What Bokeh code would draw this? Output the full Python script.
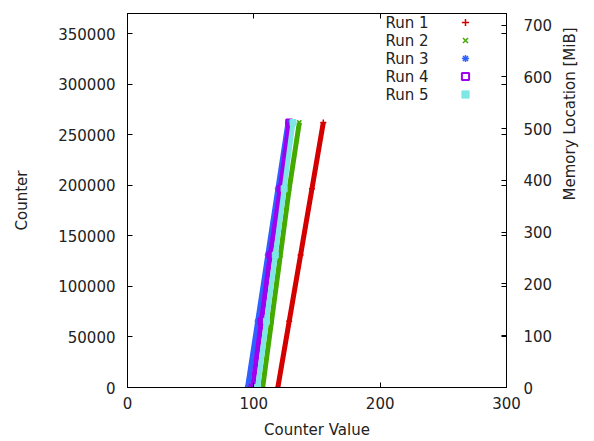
import math
from bokeh.plotting import figure
from bokeh.models import (Range1d, LinearAxis, FixedTicker, CustomJSTickFormatter,
                          NumeralTickFormatter, Legend, LegendItem, Label)
from bokeh.core.properties import value
from bokeh.embed import file_html
from bokeh.resources import INLINE

# ---- data ----
counters = [0, 65536, 131072, 196608, 262144]
run1 = [119, 128, 137, 146, 155]
run2 = [107, 114, 121, 128, 136]
run3 = [95, 103, 111, 119, 127]
run4 = [99, 106, 113, 121, 128]
run5 = [103, 110, 117, 124, 131]
run_names = ["Run 1", "Run 2", "Run 3", "Run 4", "Run 5"]
x_ticks = [0, 100, 200, 300]
y_ticks = [0, 50000, 100000, 150000, 200000, 250000, 300000, 350000]
y2_ticks = [0, 100, 200, 300, 400, 500, 600, 700]
Y_MAX = 370000
KIB_PER_COUNTER = 2  # right axis: MiB = counter * 2 / 1024

FONT = "DejaVu Sans"
FS = "15px"
TXT = "#222222"

p = figure(width=594, height=441, x_range=Range1d(0, 300), y_range=Range1d(0, Y_MAX),
           output_backend="svg", toolbar_location=None,
           min_border_left=127, min_border_right=88, min_border_top=13, min_border_bottom=52)
p.grid.visible = False
p.outline_line_color = "black"
p.outline_line_width = 1
p.background_fill_color = "white"
p.border_fill_color = "white"

def style_axis(ax):
    ax.major_label_text_font = FONT
    ax.major_label_text_font_size = FS
    ax.major_label_text_color = TXT
    ax.axis_label_text_font = FONT
    ax.axis_label_text_font_size = FS
    ax.axis_label_text_color = TXT
    ax.axis_label_text_font_style = "normal"
    ax.minor_tick_line_color = None
    ax.major_tick_in = 5
    ax.major_tick_out = 0
    ax.major_tick_line_color = "black"
    ax.axis_line_color = "black"

xa = p.xaxis[0]
style_axis(xa)
xa.ticker = FixedTicker(ticks=x_ticks)
xa.axis_label = "Counter Value"
xa.major_label_standoff = 9
xa.axis_label_standoff = 9

ya = p.yaxis[0]
style_axis(ya)
ya.ticker = FixedTicker(ticks=y_ticks)
ya.formatter = NumeralTickFormatter(format="0")
ya.axis_label = "Counter"
ya.major_label_standoff = 12
ya.axis_label_standoff = 24

# right axis: memory location, plus mirrored left ticks (unlabelled)
p.extra_y_ranges = {"mem": Range1d(0, Y_MAX * KIB_PER_COUNTER / 1024)}
mirror = [t * KIB_PER_COUNTER / 1024 for t in y_ticks[1:]]
ra = LinearAxis(y_range_name="mem")
style_axis(ra)
ra.ticker = FixedTicker(ticks=y2_ticks + mirror)
ra.formatter = CustomJSTickFormatter(
    code="return (Math.abs(tick - Math.round(tick/100)*100) < 1e-6) ? tick.toFixed(0) : '';")
ra.major_label_standoff = 17
p.add_layout(ra, "right")

# right-side title carrier: an axis with no ticks, whose label reads bottom-to-top
tt = LinearAxis(axis_label="Memory Location [MiB]", bounds=(0, 254000))
style_axis(tt)
tt.ticker = FixedTicker(ticks=[])
tt.axis_line_color = None
tt.major_tick_line_color = None
tt.major_label_standoff = 0
tt.axis_label_standoff = 14
tt.axis_label_orientation = math.pi / 2
p.add_layout(tt, "right")

# top mirror ticks
ta = LinearAxis()
style_axis(ta)
ta.ticker = FixedTicker(ticks=x_ticks)
ta.formatter = CustomJSTickFormatter(code="return '';")
ta.major_label_text_font_size = "0px"
ta.major_label_standoff = 0
p.add_layout(ta, "above")

runs = [run1, run2, run3, run4, run5]
colors = ["#d40000", "#44aa00", "#3060ff", "#a000f0", "#7fe6e6"]
markers = ["cross", "x", "asterisk", "square", "square"]

items = []
for name, vals, col, mk in zip(run_names, runs, colors, markers):
    p.line(vals, counters, line_color=col, line_width=5)
    if mk == "square" and name == "Run 4":
        r = p.scatter(vals, counters, marker=mk, size=6, line_color=col, line_width=2,
                      fill_color=None)
    elif mk == "square":
        r = p.scatter(vals, counters, marker=mk, size=6, line_color=col, fill_color=col)
    else:
        r = p.scatter(vals, counters, marker=mk, size=6, line_color=col, line_width=1.5)
    items.append(LegendItem(label=value(""), renderers=[r]))

leg = Legend(items=items, location="top_right", margin=0, padding=2, spacing=0,
             glyph_width=20, glyph_height=18, label_width=31, label_height=18,
             label_standoff=0, border_line_color=None, background_fill_alpha=0)
p.add_layout(leg)

for i, name in enumerate(run_names):
    p.add_layout(Label(x=258, y=365 - 18 * i, x_units="screen", y_units="screen",
                       text=name, text_font=FONT, text_font_size=FS, text_color=TXT,
                       text_baseline="middle", text_align="left"))

open("out.html", "w").write(file_html(p, INLINE))
